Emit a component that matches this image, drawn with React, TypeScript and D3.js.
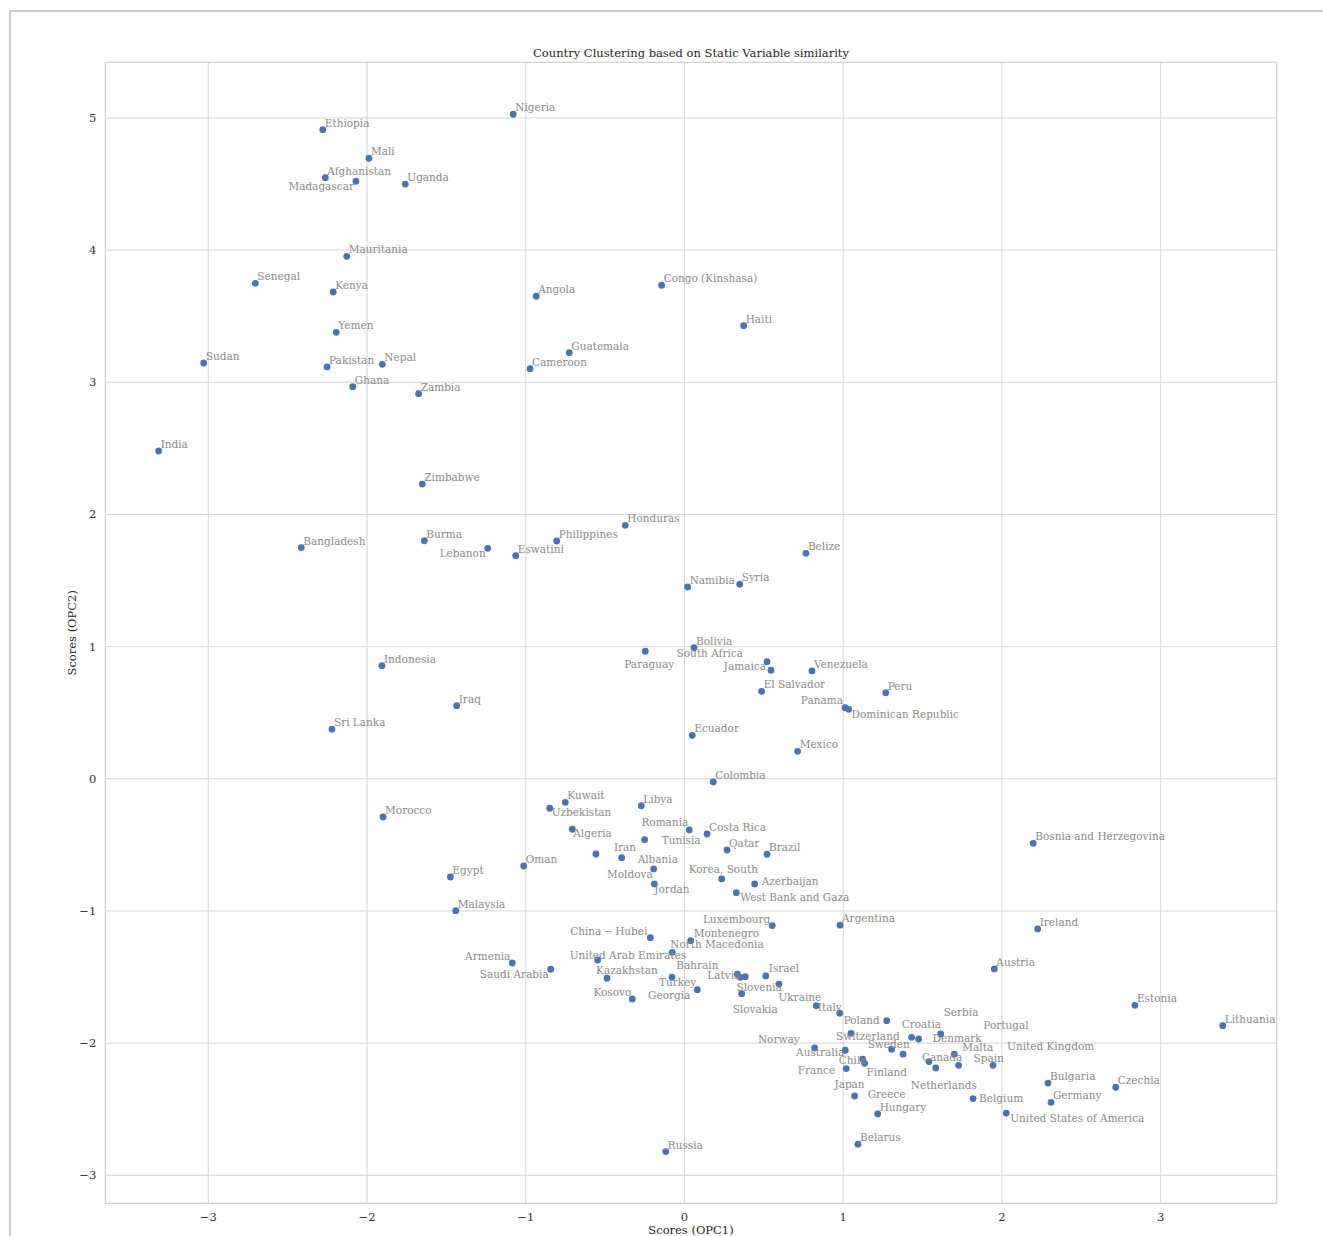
import React from 'react';
import * as d3 from 'd3';

// PCA scores per country
const countries = [
  'Ethiopia', 'Mali', 'Afghanistan', 'Madagascar', 'Uganda', 'Nigeria', 'Mauritania', 'Senegal', 'Kenya', 'Angola',
  'Congo (Kinshasa)', 'Haiti', 'Yemen', 'Guatemala', 'Sudan', 'Pakistan', 'Nepal', 'Cameroon', 'Ghana', 'Zambia',
  'India', 'Zimbabwe', 'Honduras', 'Bangladesh', 'Burma', 'Philippines', 'Lebanon', 'Eswatini', 'Belize', 'Namibia',
  'Syria', 'Bolivia', 'Paraguay', 'South Africa', 'Jamaica', 'Venezuela', 'Indonesia', 'El Salvador', 'Peru', 'Panama',
  'Dominican Republic', 'Iraq', 'Sri Lanka', 'Ecuador', 'Mexico', 'Colombia', 'Kuwait', 'Libya', 'Uzbekistan', 'Morocco',
  'Algeria', 'Romania', 'Costa Rica', 'Tunisia', 'Qatar', 'Bosnia and Herzegovina', 'Iran', 'Brazil', 'Albania', 'Oman',
  'Egypt', 'Moldova', 'Korea, South', 'Azerbaijan', 'Jordan', 'West Bank and Gaza', 'Malaysia', 'Luxembourg', 'Argentina', 'Ireland',
  'China -- Hubei', 'Montenegro', 'North Macedonia', 'United Arab Emirates', 'Armenia', 'Austria', 'Saudi Arabia', 'Kazakhstan', 'Bahrain', 'Latvia',
  'Portugal', 'Israel', 'Turkey', 'Slovenia', 'Georgia', 'Slovakia', 'Kosovo', 'Ukraine', 'Estonia', 'Italy',
  'Poland', 'Lithuania', 'Switzerland', 'Serbia', 'Croatia', 'Denmark', 'Norway', 'Sweden', 'Australia', 'Finland',
  'Malta', 'Chile', 'Canada', 'Japan', 'Spain', 'United Kingdom', 'Netherlands', 'France', 'Bulgaria', 'Czechia',
  'Greece', 'Belgium', 'Germany', 'Hungary', 'United States of America', 'Belarus', 'Russia',
];

const opc1 = [
  -2.279, -1.988, -2.263, -2.070, -1.759, -1.079, -2.128, -2.704, -2.213, -0.934,
  -0.144, 0.373, -2.194, -0.726, -3.029, -2.252, -1.904, -0.973, -2.090, -1.675,
  -3.313, -1.652, -0.373, -2.414, -1.639, -0.805, -1.240, -1.063, 0.765, 0.020,
  0.348, 0.060, -0.247, 0.520, 0.545, 0.803, -1.906, 0.486, 1.268, 1.011,
  1.034, -1.435, -2.221, 0.049, 0.713, 0.181, -0.751, -0.272, -0.849, -1.899,
  -0.707, 0.030, 0.142, -0.251, 0.268, 2.197, -0.558, 0.520, -0.396, -1.013,
  -1.475, -0.194, 0.234, 0.442, -0.190, 0.326, -1.441, 0.553, 0.980, 2.225,
  -0.215, 0.039, -0.077, -0.547, -1.085, 1.952, -0.843, -0.488, 0.333, 0.352,
  0.383, 0.512, -0.079, 0.595, 0.081, 0.360, -0.329, 0.830, 2.838, 0.978,
  1.274, 3.391, 1.049, 1.614, 1.431, 1.475, 0.820, 1.305, 1.013, 1.377,
  1.700, 1.123, 1.540, 1.135, 1.727, 1.944, 1.583, 1.019, 2.290, 2.717,
  1.072, 1.818, 2.309, 1.217, 2.027, 1.093, -0.118,
];

const opc2 = [
  4.911, 4.695, 4.548, 4.521, 4.500, 5.028, 3.953, 3.749, 3.683, 3.651,
  3.734, 3.428, 3.378, 3.224, 3.146, 3.116, 3.136, 3.103, 2.967, 2.914,
  2.480, 2.230, 1.918, 1.749, 1.801, 1.799, 1.744, 1.688, 1.706, 1.451,
  1.472, 0.992, 0.965, 0.886, 0.821, 0.816, 0.856, 0.662, 0.651, 0.538,
  0.526, 0.553, 0.375, 0.329, 0.208, -0.024, -0.178, -0.204, -0.223, -0.289,
  -0.382, -0.387, -0.418, -0.461, -0.539, -0.488, -0.569, -0.571, -0.597, -0.660,
  -0.743, -0.682, -0.758, -0.796, -0.796, -0.862, -0.998, -1.111, -1.108, -1.136,
  -1.202, -1.225, -1.313, -1.371, -1.394, -1.439, -1.441, -1.509, -1.479, -1.502,
  -1.497, -1.492, -1.500, -1.553, -1.596, -1.626, -1.666, -1.717, -1.714, -1.774,
  -1.830, -1.868, -1.926, -1.931, -1.956, -1.969, -2.037, -2.047, -2.054, -2.084,
  -2.084, -2.122, -2.140, -2.153, -2.168, -2.168, -2.188, -2.193, -2.302, -2.334,
  -2.400, -2.420, -2.448, -2.536, -2.529, -2.765, -2.821,
];

const xTicks = [-3, -2, -1, 0, 1, 2, 3];
const yTicks = [-3, -2, -1, 0, 1, 2, 3, 4, 5];

// label placement (anchor, dx, dy in px) where the label was pushed off the default spot
const labelPlacement: Record<string, [string, number, number]> = {
  'Madagascar': ['end', -2, 9],
  'Lebanon': ['end', -2, 9],
  'Paraguay': ['start', -21, 17],
  'South Africa': ['end', -24, -5],
  'Jamaica': ['end', -5, 0],
  'Panama': ['end', -2, -4],
  'Dominican Republic': ['start', 3, 9],
  'Uzbekistan': ['start', 2, 8],
  'Algeria': ['start', 1, 8],
  'Romania': ['end', -1, -4],
  'Tunisia': ['start', 17, 4],
  'Iran': ['start', 18, -3],
  'Albania': ['start', 16, 5],
  'Moldova': ['end', -1, 9],
  'Jordan': ['start', 0, 9],
  'Korea, South': ['start', -33, -6],
  'Azerbaijan': ['start', 7, 1],
  'West Bank and Gaza': ['start', 4, 8],
  'Luxembourg': ['end', -2, -3],
  'China -- Hubei': ['end', -3, -3],
  'Montenegro': ['start', 3, -4],
  'North Macedonia': ['start', -2, -4],
  'United Arab Emirates': ['start', -28, -1],
  'Armenia': ['end', -2, -3],
  'Saudi Arabia': ['end', -2, 9],
  'Kazakhstan': ['start', -11, -4],
  'Bahrain': ['start', -61, -5],
  'Latvia': ['end', 0, 2],
  'Portugal': ['start', 238, 52],
  'Israel': ['start', 3, -4],
  'Turkey': ['start', -13, 9],
  'Slovenia': ['end', 3, 7],
  'Georgia': ['end', -7, 9],
  'Slovakia': ['start', -9, 19],
  'Kosovo': ['end', -1, -3],
  'Ukraine': ['end', 5, -5],
  'Italy': ['end', 2, -2],
  'Poland': ['end', -7, 3],
  'Switzerland': ['start', -15, 7],
  'Serbia': ['start', 3, -18],
  'Croatia': ['start', -10, -9],
  'Denmark': ['start', 14, 3],
  'Norway': ['end', -15, -5],
  'Sweden': ['start', -24, -1],
  'Australia': ['end', -1, 6],
  'Finland': ['end', 4, 22],
  'Malta': ['start', 8, -3],
  'Chile': ['start', -24, 5],
  'Canada': ['start', -7, -1],
  'Japan': ['end', 0, 25],
  'Spain': ['start', 15, -3],
  'United Kingdom': ['start', 14, -15],
  'Netherlands': ['start', -25, 21],
  'France': ['end', -11, 5],
  'Greece': ['start', 13, 2],
  'Belgium': ['start', 6, 3],
  'United States of America': ['start', 4, 9],
};

const W = 1323;
const H = 1236;
const margin = { left: 105.3, top: 62.3, right: W - 1276.7, bottom: H - 1203.3 };
const font = '"DejaVu Serif", serif';

export default function App() {
  const x = d3.scaleLinear().domain([-3.649, 3.731]).range([margin.left, W - margin.right]);
  const y = d3.scaleLinear().domain([-3.212, 5.421]).range([H - margin.bottom, margin.top]);
  const pts = countries.map((c, i) => ({ name: c, px: x(opc1[i]), py: y(opc2[i]) }));
  const fmt = (v: number) => (v < 0 ? '\u2212' + Math.abs(v) : String(v));
  const x0 = margin.left, x1 = W - margin.right, y0 = margin.top, y1 = H - margin.bottom;

  return (
    <svg width={W} height={H} style={{ position: 'absolute', left: 0, top: 0, background: '#fff' }} fontFamily={font}>
      {/* figure frame */}
      <rect x={10} y={11} width={W + 20} height={H + 20} fill="none" stroke="#a8a8a8" strokeWidth={1.2} />

      <text x={(x0 + x1) / 2} y={57} textAnchor="middle" fontSize={11.5} fill="#262626">
        Country Clustering based on Static Variable similarity
      </text>

      {/* grid */}
      {xTicks.map(t => (
        <line key={'gx' + t} x1={x(t)} x2={x(t)} y1={y0} y2={y1} stroke="#d5d5d5" strokeWidth={1} />
      ))}
      {yTicks.map(t => (
        <line key={'gy' + t} x1={x0} x2={x1} y1={y(t)} y2={y(t)} stroke="#d5d5d5" strokeWidth={1} />
      ))}
      <rect x={x0} y={y0} width={x1 - x0} height={y1 - y0} fill="none" stroke="#cfcfcf" strokeWidth={1.2} />

      {/* tick labels */}
      {xTicks.map(t => (
        <text key={'tx' + t} x={x(t)} y={y1 + 18} textAnchor="middle" fontSize={11.5} fill="#333">{fmt(t)}</text>
      ))}
      {yTicks.map(t => (
        <text key={'ty' + t} x={x0 - 9} y={y(t) + 4} textAnchor="end" fontSize={11.5} fill="#333">{fmt(t)}</text>
      ))}

      <text x={(x0 + x1) / 2} y={1234} textAnchor="middle" fontSize={11.5} fill="#262626">Scores (OPC1)</text>
      <text transform={`translate(76,${(y0 + y1) / 2}) rotate(-90)`} textAnchor="middle" fontSize={11.5} fill="#262626">
        Scores (OPC2)
      </text>

      {/* points */}
      {pts.map(p => (
        <circle key={'c' + p.name} cx={p.px} cy={p.py} r={3.4} fill="#4c72b0" />
      ))}
      {pts.map(p => {
        const [anchor, dx, dy] = labelPlacement[p.name] || ['start', 2, -3];
        return (
          <text key={'l' + p.name} x={p.px + dx} y={p.py + dy} textAnchor={anchor} fontSize={10.5} fill="#8a8a8a">
            {p.name}
          </text>
        );
      })}
    </svg>
  );
}
